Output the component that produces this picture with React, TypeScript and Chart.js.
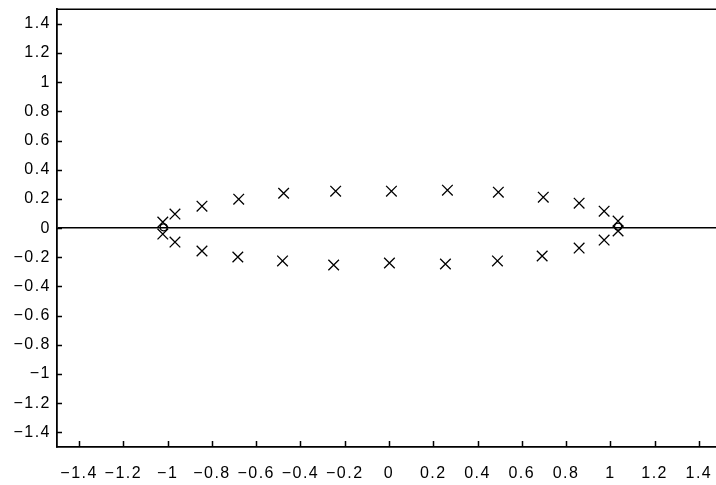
import React, { useEffect, useRef } from 'react';
import { Chart, registerables } from 'chart.js';

Chart.register(...registerables);

const xTicks = [-1.4, -1.2, -1, -0.8, -0.6, -0.4, -0.2, 0, 0.2, 0.4, 0.6, 0.8, 1, 1.2, 1.4];
const yTicks = [-1.4, -1.2, -1, -0.8, -0.6, -0.4, -0.2, 0, 0.2, 0.4, 0.6, 0.8, 1, 1.2, 1.4];

const upperX = [-1.022, -0.967, -0.845, -0.679, -0.476, -0.241, 0.011, 0.264, 0.494, 0.697, 0.859, 0.972, 1.035];
const upperY = [0.041, 0.096, 0.15, 0.198, 0.239, 0.253, 0.253, 0.26, 0.246, 0.212, 0.171, 0.116, 0.048];
const lowerX = [-1.022, -0.967, -0.845, -0.683, -0.481, -0.25, 0.002, 0.255, 0.49, 0.692, 0.859, 0.972, 1.035];
const lowerY = [-0.041, -0.096, -0.157, -0.198, -0.225, -0.253, -0.239, -0.246, -0.225, -0.191, -0.137, -0.082, -0.02];
const zeroX = [-1.018, 1.035];
const zeroY = [0.005, 0.01];

const FONT = '"Liberation Sans", Arial, Helvetica, sans-serif';

function fmt(v: number): string {
  return v < 0 ? '\u2212' + String(Math.abs(v)) : String(v);
}

export default function App() {
  const ref = useRef<HTMLCanvasElement>(null);

  useEffect(() => {
    const canvas = ref.current!;
    const spacing = {
      id: 'spacing',
      beforeDraw(chart: any) {
        chart.ctx.letterSpacing = '1.5px';
      },
    };
    const frame = {
      id: 'frame',
      afterDraw(chart: any) {
        const ctx = chart.ctx;
        const area = chart.chartArea;
        const xs = chart.scales.x;
        const ys = chart.scales.y;
        ctx.save();
        ctx.strokeStyle = '#000';
        ctx.lineWidth = 1.5;
        ctx.beginPath();
        yTicks.forEach((v) => {
          const p = Math.round(ys.getPixelForValue(v)) + 0.5;
          ctx.moveTo(area.left, p);
          ctx.lineTo(area.left + 5, p);
        });
        xTicks.forEach((v) => {
          const p = Math.round(xs.getPixelForValue(v)) + 0.5;
          ctx.moveTo(p, area.bottom);
          ctx.lineTo(p, area.bottom - 6);
        });
        ctx.stroke();
        ctx.lineWidth = 1.6;
        ctx.beginPath();
        ctx.moveTo(area.left, area.top);
        ctx.lineTo(area.right, area.top);
        ctx.stroke();
        ctx.restore();
      },
    };

    const crossStyle = {
      pointStyle: 'crossRot' as const,
      pointRadius: 7.5,
      borderColor: '#000',
      backgroundColor: 'transparent',
      borderWidth: 1.3,
    };

    const chart = new Chart(canvas, {
      type: 'scatter',
      data: {
        datasets: [
          { data: upperX.map((x, i) => ({ x, y: upperY[i] })), ...crossStyle },
          { data: lowerX.map((x, i) => ({ x, y: lowerY[i] })), ...crossStyle },
          {
            data: zeroX.map((x, i) => ({ x, y: zeroY[i] })),
            pointStyle: 'circle',
            pointRadius: 3.5,
            borderColor: '#000',
            backgroundColor: 'transparent',
            borderWidth: 1.2,
          },
        ],
      },
      options: {
        responsive: false,
        animation: false,
        devicePixelRatio: 1,
        layout: { padding: { top: 0, right: 9, left: 0, bottom: 0 } },
        plugins: { legend: { display: false }, tooltip: { enabled: false } },
        scales: {
          x: {
            type: 'linear',
            position: 'bottom',
            min: -1.5,
            max: 1.5,
            afterBuildTicks: (s: any) => {
              s.ticks = xTicks.map((v) => ({ value: v }));
            },
            afterFit: (s: any) => {
              s.height = 38;
            },
            grid: { display: true, drawOnChartArea: false, drawTicks: false },
            border: { display: true, color: '#000', width: 1.8 },
            ticks: {
              color: '#000',
              font: { family: FONT, size: 16 },
              padding: 17,
              maxRotation: 0,
              autoSkip: false,
              callback: (v: any) => fmt(Number(v)),
            },
          },
          y: {
            type: 'linear',
            position: 'left',
            min: -1.5,
            max: 1.5,
            afterBuildTicks: (s: any) => {
              s.ticks = yTicks.map((v) => ({ value: v }));
            },
            afterFit: (s: any) => {
              s.width = 57;
            },
            grid: {
              display: true,
              drawOnChartArea: true,
              drawTicks: false,
              color: (c: any) => (c.tick && c.tick.value === 0 ? '#000' : 'rgba(0,0,0,0)'),
              lineWidth: 1.6,
            },
            border: { display: true, color: '#000', width: 1.8 },
            ticks: {
              color: '#000',
              font: { family: FONT, size: 16, lineHeight: 0.4 },
              padding: 6,
              autoSkip: false,
              callback: (v: any) => fmt(Number(v)),
            },
          },
        },
      },
      plugins: [spacing, frame],
    });

    return () => chart.destroy();
  }, []);

  return (
    <div
      style={{
        position: 'fixed',
        left: 0,
        top: 0,
        width: 716,
        height: 485,
        overflow: 'hidden',
        background: '#fff',
      }}
    >
      <canvas ref={ref} width={730} height={485} style={{ display: 'block' }} />
    </div>
  );
}
